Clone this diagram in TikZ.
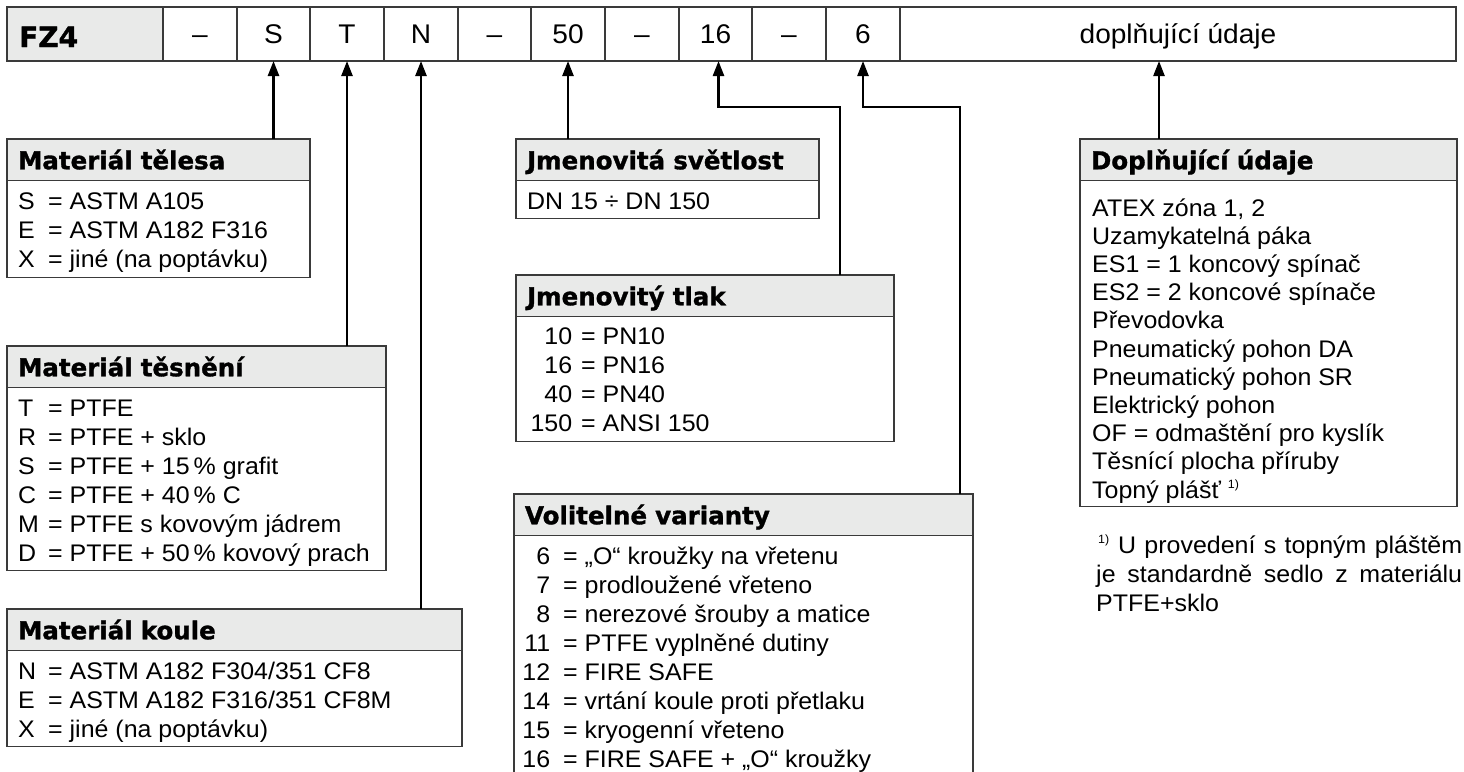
\documentclass[tikz,border=0pt]{standalone}
\usepackage{fontspec}
\setmainfont[FakeStretch=1.04]{Liberation Sans}
\newfontfamily\hfont[FakeBold=1.3]{DejaVu Sans Bold}
\usetikzlibrary{arrows.meta}
\definecolor{hdgray}{HTML}{E9EAE9}
\definecolor{bdrc}{HTML}{3A3A3A}
\newcommand\btxt{\fontsize{24}{29}\selectfont}
\newcommand\ttxt{\fontsize{27}{30}\selectfont}
\newcommand\htxt{\hfont\fontsize{24.5}{29}\selectfont}
\begin{document}
\begin{tikzpicture}[x=1pt,y=-1pt,
  cellbox/.style={draw=bdrc, line width=1.3pt, minimum height=54pt, inner sep=0pt, outer sep=0pt, anchor=north west, font=\ttxt, text height=19pt, text depth=0pt},
  hdr/.style={draw=bdrc, fill=hdgray, line width=1.3pt, minimum height=41.5pt, inner xsep=11pt, inner ysep=0pt, outer sep=0pt, anchor=north west, font=\htxt, text height=19pt, text depth=0pt, align=left},
  bodybox/.style={draw=bdrc, line width=1.3pt, inner sep=0pt, outer sep=0pt, anchor=north west},
  txt/.style={anchor=base west, inner sep=0pt, font=\btxt},
  conn/.style={line width=2.4pt, draw=black},
  arr/.style={conn, {Triangle[length=15pt,width=11pt]}-}
]
\useasboundingbox (0,0) rectangle (1464,771);
\clip (0,0) rectangle (1464,771);

% ---- top row ----
\node[cellbox, fill=hdgray, minimum width=156pt] (cFZ) at (7,7) {};
\node[anchor=base west, inner sep=0pt, font=\hfont\fontsize{28}{30}\selectfont] (tFZ) at (19,47) {FZ4};
\node[cellbox, minimum width=74pt] (cD1) at (163,7) {–};
\node[cellbox, minimum width=73pt] (cS) at (237,7) {S};
\node[cellbox, minimum width=74pt] (cT) at (310,7) {T};
\node[cellbox, minimum width=74pt] (cN) at (384,7) {N};
\node[cellbox, minimum width=73pt] (cD2) at (458,7) {–};
\node[cellbox, minimum width=74pt] (c50) at (531,7) {50};
\node[cellbox, minimum width=74pt] (cD3) at (605,7) {–};
\node[cellbox, minimum width=73pt] (c16) at (679,7) {16};
\node[cellbox, minimum width=74pt] (cD4) at (752,7) {–};
\node[cellbox, minimum width=74pt] (c6) at (826,7) {6};
\node[cellbox, minimum width=556pt] (cDop) at (900,7) {doplňující údaje};

% ---- Materiál tělesa ----
\node[hdr, minimum width=303pt, text width=281pt] (hTel) at (7,139) {Materiál tělesa};
\node[bodybox, minimum width=303pt, minimum height=97pt] (bTel) at (hTel.south west) {};
\node[txt] (tTel) at (18,209) {\begin{tabular}[t]{@{}l@{}}
\makebox[30pt][l]{S}= ASTM A105\\
\makebox[30pt][l]{E}= ASTM A182 F316\\
\makebox[30pt][l]{X}= jiné (na poptávku)
\end{tabular}};

% ---- Materiál těsnění ----
\node[hdr, minimum width=379pt, text width=357pt] (hTes) at (7,346) {Materiál těsnění};
\node[bodybox, minimum width=379pt, minimum height=183pt] (bTes) at (hTes.south west) {};
\node[txt] (tTes) at (18,416) {\begin{tabular}[t]{@{}l@{}}
\makebox[30pt][l]{T}= PTFE\\
\makebox[30pt][l]{R}= PTFE + sklo\\
\makebox[30pt][l]{S}= PTFE + 15\,\% grafit\\
\makebox[30pt][l]{C}= PTFE + 40\,\% C\\
\makebox[30pt][l]{M}= PTFE s kovovým jádrem\\
\makebox[30pt][l]{D}= PTFE + 50\,\% kovový prach
\end{tabular}};

% ---- Materiál koule ----
\node[hdr, minimum width=455pt, text width=433pt] (hKou) at (7,609) {Materiál koule};
\node[bodybox, minimum width=455pt, minimum height=96pt] (bKou) at (hKou.south west) {};
\node[txt] (tKou) at (18,679) {\begin{tabular}[t]{@{}l@{}}
\makebox[30pt][l]{N}= ASTM A182 F304/351 CF8\\
\makebox[30pt][l]{E}= ASTM A182 F316/351 CF8M\\
\makebox[30pt][l]{X}= jiné (na poptávku)
\end{tabular}};

% ---- Jmenovitá světlost ----
\node[hdr, minimum width=303pt, text width=281pt] (hSvet) at (516,139) {Jmenovitá světlost};
\node[bodybox, minimum width=303pt, minimum height=38pt] (bSvet) at (hSvet.south west) {};
\node[txt] (tSvet) at (527,209) {DN 15 ÷ DN 150};

% ---- Jmenovitý tlak ----
\node[hdr, minimum width=378pt, text width=356pt] (hTlak) at (516,275) {Jmenovitý tlak};
\node[bodybox, minimum width=378pt, minimum height=125pt] (bTlak) at (hTlak.south west) {};
\node[txt] (tTlak) at (520,344) {\begin{tabular}[t]{@{}l@{}}
\makebox[52pt][r]{10}\hspace{9pt}= PN10\\
\makebox[52pt][r]{16}\hspace{9pt}= PN16\\
\makebox[52pt][r]{40}\hspace{9pt}= PN40\\
\makebox[52pt][r]{150}\hspace{9pt}= ANSI 150
\end{tabular}};

% ---- Volitelné varianty ----
\node[hdr, minimum width=459pt, text width=437pt] (hVol) at (514,494) {Volitelné varianty};
\node[bodybox, minimum width=459pt, minimum height=260pt] (bVol) at (hVol.south west) {};
\node[txt] (tVol) at (514,564) {\begin{tabular}[t]{@{}l@{}}
\makebox[36pt][r]{6}\hspace{13pt}= „O“ kroužky na vřetenu\\
\makebox[36pt][r]{7}\hspace{13pt}= prodloužené vřeteno\\
\makebox[36pt][r]{8}\hspace{13pt}= nerezové šrouby a matice\\
\makebox[36pt][r]{11}\hspace{13pt}= PTFE vyplněné dutiny\\
\makebox[36pt][r]{12}\hspace{13pt}= FIRE SAFE\\
\makebox[36pt][r]{14}\hspace{13pt}= vrtání koule proti přetlaku\\
\makebox[36pt][r]{15}\hspace{13pt}= kryogenní vřeteno\\
\makebox[36pt][r]{16}\hspace{13pt}= FIRE SAFE + „O“ kroužky
\end{tabular}};

% ---- Doplňující údaje ----
\node[hdr, minimum width=377pt, text width=355pt] (hDop) at (1080,139) {Doplňující údaje};
\node[bodybox, minimum width=377pt, minimum height=326pt] (bDop) at (hDop.south west) {};
\node[txt, font=\fontsize{24}{28.2}\selectfont] (tDop) at (1092,216) {\begin{tabular}[t]{@{}l@{}}
ATEX zóna 1, 2\\
Uzamykatelná páka\\
ES1 = 1 koncový spínač\\
ES2 = 2 koncové spínače\\
Převodovka\\
Pneumatický pohon DA\\
Pneumatický pohon SR\\
Elektrický pohon\\
OF = odmaštění pro kyslík\\
Těsnící plocha příruby\\
Topný plášť \textsuperscript{\fontsize{12}{12}\selectfont 1)}
\end{tabular}};

% ---- footnote ----
\node[txt] (fn1) at (1098,553) {\makebox[364pt][s]{\textsuperscript{\fontsize{12}{12}\selectfont 1)} U provedení s topným pláštěm}};
\node[txt] (fn2) at (1096,582) {\makebox[366pt][s]{je standardně sedlo z materiálu}};
\node[txt] (fn3) at (1096,611) {PTFE+sklo};

% ---- connectors ----
\coordinate (k16) at (840,107);
\coordinate (k6) at (960,107);
\draw[arr] (cS.south) -- (cS.south |- hTel.north);
\draw[arr] (cT.south) -- (cT.south |- hTes.north);
\draw[arr] (cN.south) -- (cN.south |- hKou.north);
\draw[arr] (c50.south) -- (c50.south |- hSvet.north);
\draw[arr] ([xshift=3pt]c16.south) -- ([xshift=3pt]c16.south |- k16) -- (k16) -- (k16 |- hTlak.north);
\draw[arr] (c6.south) -- (c6.south |- k6) -- (k6) -- (k6 |- hVol.north);
\draw[arr] ([xshift=-19pt]cDop.south) -- ([xshift=-19pt]cDop.south |- hDop.north);
\end{tikzpicture}
\end{document}
